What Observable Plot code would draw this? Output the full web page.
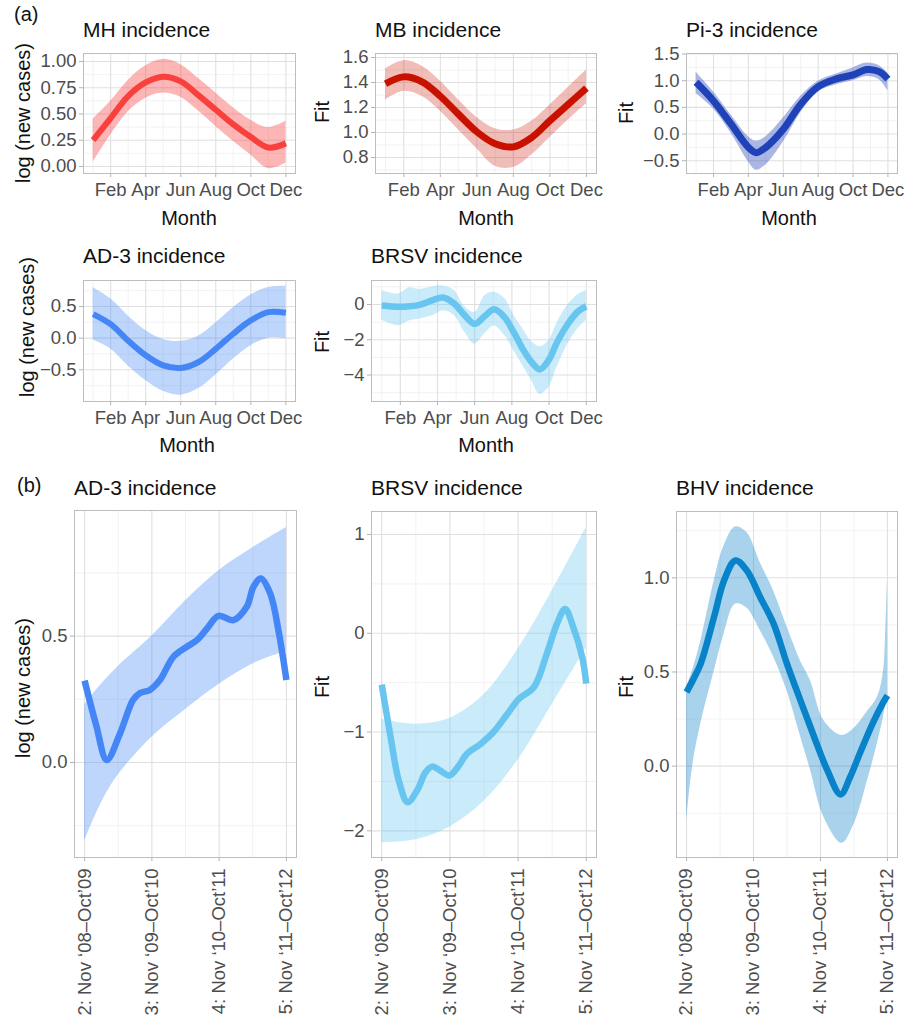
<!DOCTYPE html>
<html><head><meta charset="utf-8">
<script src="https://cdn.jsdelivr.net/npm/d3@7"></script>
<script src="https://cdn.jsdelivr.net/npm/@observablehq/plot@0.6"></script>
<style>
body{margin:0;background:#fff;}
#fig{position:relative;width:919px;height:1023px;overflow:hidden;background:#fff;font-family:"Liberation Sans",Arial,Helvetica,sans-serif;}
</style></head><body><div id="fig"></div>
<script>
// ---------- tick labels ----------
const monthTicks = [2, 4, 6, 8, 10, 12];
const monthLabels = ["Feb", "Apr", "Jun", "Aug", "Oct", "Dec"];
const seasonTicks = [2, 3, 4, 5];
const seasonLabels = ["2: Nov \u201808\u2013Oct\u201909", "3: Nov \u201809\u2013Oct\u201910", "4: Nov \u201810\u2013Oct\u201911", "5: Nov \u201811\u2013Oct\u201912"];

// ---------- (a) seasonal fits ----------
const monthX = [1, 2, 3, 4, 5, 6, 7, 8, 9, 10, 11, 12];
const mhFit = [0.25, 0.46, 0.67, 0.80, 0.855, 0.81, 0.68, 0.54, 0.40, 0.28, 0.18, 0.22];
const mhLo  = [0.04, 0.30, 0.52, 0.65, 0.70, 0.66, 0.53, 0.38, 0.24, 0.11, -0.02, 0.03];
const mhHi  = [0.45, 0.62, 0.82, 0.96, 1.02, 0.97, 0.84, 0.70, 0.56, 0.44, 0.37, 0.43];

const mbFit = [1.39, 1.445, 1.405, 1.29, 1.145, 1.005, 0.91, 0.885, 0.96, 1.095, 1.225, 1.355];
const mbLo  = [1.26, 1.33, 1.29, 1.17, 1.02, 0.87, 0.73, 0.72, 0.82, 0.96, 1.10, 1.23];
const mbHi  = [1.51, 1.575, 1.53, 1.41, 1.26, 1.12, 1.03, 1.02, 1.09, 1.22, 1.36, 1.50];

const pi3X   = [1, 2, 3, 4, 4.45, 5, 6, 7, 8, 9, 10, 10.8, 11.5, 12];
const pi3Fit = [0.97, 0.62, 0.19, -0.25, -0.35, -0.25, 0.09, 0.56, 0.89, 1.03, 1.11, 1.21, 1.17, 1.03];
const pi3Lo  = [0.76, 0.47, 0.02, -0.52, -0.68, -0.58, -0.15, 0.40, 0.79, 0.92, 1.00, 1.08, 1.02, 0.81];
const pi3Hi  = [1.16, 0.79, 0.36, -0.05, -0.13, -0.05, 0.30, 0.71, 0.99, 1.12, 1.24, 1.33, 1.28, 1.14];

const ad3aFit = [0.38, 0.22, -0.04, -0.27, -0.43, -0.47, -0.38, -0.17, 0.07, 0.28, 0.41, 0.40];
const ad3aLo  = [-0.03, -0.17, -0.44, -0.67, -0.84, -0.90, -0.80, -0.58, -0.33, -0.12, 0.00, -0.01];
const ad3aHi  = [0.80, 0.62, 0.35, 0.12, -0.02, -0.05, 0.03, 0.24, 0.48, 0.68, 0.80, 0.82];

const brsvaX   = [1, 1.9, 2.5, 3.05, 3.75, 4.3, 4.9, 5.45, 6.0, 6.55, 7.05, 7.6, 8.15, 8.6, 9.05, 9.5, 9.95, 10.45, 11.0, 11.55, 12];
const brsvaFit = [-0.06, -0.13, -0.10, -0.02, 0.25, 0.40, 0.05, -0.60, -1.10, -0.65, -0.27, -0.72, -1.67, -2.55, -3.25, -3.68, -3.20, -2.10, -1.12, -0.40, -0.10];
const brsvaLo  = [-0.90, -1.20, -0.92, -0.82, -0.62, -0.35, -0.62, -1.55, -2.25, -1.65, -1.22, -1.75, -2.70, -3.50, -4.30, -5.10, -4.75, -3.50, -2.25, -1.38, -0.90];
const brsvaHi  = [0.80, 0.60, 0.95, 0.85, 1.00, 1.05, 0.80, -0.10, -0.45, 0.50, 0.70, 0.35, -0.70, -1.40, -2.10, -2.40, -2.10, -1.00, -0.05, 0.55, 0.80];

// ---------- (b) season trends ----------
const ad3bX   = [2.0, 2.17, 2.33, 2.52, 2.72, 2.82, 2.97, 3.12, 3.32, 3.52, 3.67, 3.82, 3.99, 4.21, 4.41, 4.51, 4.62, 4.76, 4.89, 5.0];
const ad3bFit = [0.324, 0.15, 0.01, 0.11, 0.247, 0.274, 0.287, 0.326, 0.418, 0.458, 0.484, 0.53, 0.58, 0.563, 0.616, 0.695, 0.728, 0.668, 0.51, 0.326];
const ad3bBandX = [2.0, 2.25, 2.5, 3.0, 3.5, 4.0, 4.5, 5.0];
const ad3bLo  = [-0.31, -0.16, -0.05, 0.10, 0.21, 0.31, 0.39, 0.44];
const ad3bHi  = [0.23, 0.31, 0.38, 0.50, 0.64, 0.76, 0.85, 0.93];

const brsvbX   = [2.0, 2.13, 2.25, 2.38, 2.52, 2.64, 2.74, 2.86, 2.99, 3.11, 3.25, 3.45, 3.64, 3.84, 4.01, 4.23, 4.42, 4.57, 4.69, 4.81, 4.94, 5.0];
const brsvbFit = [-0.52, -1.05, -1.49, -1.71, -1.59, -1.41, -1.35, -1.39, -1.44, -1.36, -1.22, -1.12, -1.00, -0.82, -0.665, -0.547, -0.21, 0.095, 0.247, 0.06, -0.24, -0.51];
const brsvbBandX = [2.0, 2.5, 3.0, 3.5, 4.0, 4.5, 5.0];
const brsvbLo  = [-2.12, -2.09, -1.96, -1.70, -1.28, -0.72, -0.15];
const brsvbHi  = [-0.87, -0.92, -0.86, -0.62, -0.16, 0.43, 1.07];

const bhvX   = [2.0, 2.1, 2.21, 2.41, 2.56, 2.73, 2.9, 3.1, 3.3, 3.5, 3.7, 3.9, 4.1, 4.3, 4.44, 4.59, 4.79, 4.94, 5.0];
const bhvFit = [0.393, 0.46, 0.543, 0.791, 0.986, 1.092, 1.039, 0.897, 0.756, 0.543, 0.349, 0.16, -0.02, -0.15, -0.06, 0.07, 0.235, 0.34, 0.375];
const bhvBandX = [2.0, 2.1, 2.21, 2.41, 2.56, 2.73, 2.9, 3.1, 3.3, 3.5, 3.7, 3.85, 4.05, 4.32, 4.5, 4.7, 4.85, 4.94, 4.97, 5.0];
const bhvLo  = [-0.29, 0.02, 0.22, 0.50, 0.70, 0.86, 0.84, 0.72, 0.58, 0.40, 0.16, -0.02, -0.27, -0.41, -0.31, -0.08, 0.12, 0.26, 0.32, 0.36];
const bhvHi  = [0.42, 0.52, 0.66, 0.98, 1.17, 1.27, 1.24, 1.08, 0.93, 0.74, 0.56, 0.455, 0.243, 0.163, 0.20, 0.29, 0.366, 0.50, 0.68, 0.99];

// ---------- drawing ----------
const FONT = '"Liberation Sans", Arial, Helvetica, sans-serif';
const fig = document.getElementById("fig");

function panel(c) {
  const [L, T, R, B] = c.frame;
  const mL = 64, mT = 6, mR = 14, mB = c.rotate ? 175 : 34;
  const rows = c.x.map((d, i) => ({x: d, y: c.fit[i]}));
  const bx = c.bandX || c.x;
  const band = bx.map((d, i) => ({x: d, lo: c.lo[i], hi: c.hi[i]}));
  const chart = Plot.plot({
    width: R - L + mL + mR,
    height: B - T + mT + mB,
    marginLeft: mL, marginRight: mR, marginTop: mT, marginBottom: mB,
    style: {fontSize: "18.5px", fontFamily: FONT, color: "#4d4d4d", background: "transparent", overflow: "visible"},
    x: {domain: c.xDomain, ticks: c.xTicks, tickFormat: d => c.xLabels[c.xTicks.indexOf(d)],
        tickSize: 4, tickPadding: c.rotate ? 7 : 5, tickRotate: c.rotate ? -90 : 0, label: null},
    y: {domain: c.yDomain, ticks: c.yTicks, tickFormat: c.yFormat, tickSize: 4, tickPadding: 3, label: null},
    marks: [
      Plot.frame({fill: "white"}),
      Plot.ruleX(c.xMinor, {stroke: "#efefef", strokeWidth: 0.8}),
      Plot.ruleY(c.yMinor, {stroke: "#efefef", strokeWidth: 0.8}),
      Plot.ruleX(c.xTicks, {stroke: "#e0e0e0", strokeWidth: 1.1}),
      Plot.ruleY(c.yTicks, {stroke: "#e0e0e0", strokeWidth: 1.1}),
      Plot.area(band, {x1: "x", y1: "lo", y2: "hi", fill: c.color, fillOpacity: c.alpha, curve: "catmull-rom"}),
      Plot.line(rows, {x: "x", y: "y", stroke: c.color, strokeWidth: c.lw, curve: "catmull-rom", strokeLinecap: "butt"}),
      Plot.frame({stroke: "#bdbdbd", strokeWidth: 1})
    ]
  });
  chart.querySelectorAll('[aria-label="x-axis tick"], [aria-label="y-axis tick"]').forEach(g => g.setAttribute("stroke", "#b3b3b3"));
  chart.querySelectorAll('[aria-label="x-axis"] line, [aria-label="y-axis"] line').forEach(l => l.setAttribute("stroke", "#b3b3b3"));
  chart.style.position = "absolute";
  chart.style.left = (L - mL) + "px";
  chart.style.top = (T - mT) + "px";
  fig.appendChild(chart);
}

const f2 = d3.format(".2f"), f1 = d3.format(".1f"), f0 = d3.format(".0f");
const rowA = {xDomain: [0.45, 12.55], xTicks: monthTicks, xLabels: monthLabels, xMinor: [1, 3, 5, 7, 9, 11]};
const rowB = {xDomain: [1.85, 5.15], xTicks: seasonTicks, xLabels: seasonLabels, xMinor: [2.5, 3.5, 4.5], rotate: true};

panel({...rowA, frame: [83, 53, 295, 173], yDomain: [-0.067, 1.076], yTicks: [0, 0.25, 0.5, 0.75, 1], yMinor: [0.125, 0.375, 0.625, 0.875], yFormat: f2,
  x: monthX, fit: mhFit, lo: mhLo, hi: mhHi, color: "#F8403D", alpha: 0.38, lw: 6});
panel({...rowA, frame: [375, 53, 596, 173], yDomain: [0.672, 1.632], yTicks: [0.8, 1.0, 1.2, 1.4, 1.6], yMinor: [0.7, 0.9, 1.1, 1.3, 1.5], yFormat: f1,
  x: monthX, fit: mbFit, lo: mbLo, hi: mbHi, color: "#C91100", alpha: 0.28, lw: 7});
panel({...rowA, frame: [686, 53, 897, 173], yDomain: [-0.74, 1.51], yTicks: [-0.5, 0, 0.5, 1.0, 1.5], yMinor: [-0.25, 0.25, 0.75, 1.25], yFormat: f1,
  x: pi3X, fit: pi3Fit, lo: pi3Lo, hi: pi3Hi, color: "#2042B8", alpha: 0.38, lw: 7});
panel({...rowA, frame: [83, 280, 295, 401], yDomain: [-1.0, 0.91], yTicks: [-0.5, 0, 0.5], yMinor: [-0.75, -0.25, 0.25, 0.75], yFormat: f1,
  x: monthX, fit: ad3aFit, lo: ad3aLo, hi: ad3aHi, color: "#4586F7", alpha: 0.35, lw: 6});
panel({...rowA, frame: [371, 280, 596, 401], yDomain: [-5.5, 1.36], yTicks: [-4, -2, 0], yMinor: [-5, -3, -1, 1], yFormat: f0,
  x: brsvaX, fit: brsvaFit, lo: brsvaLo, hi: brsvaHi, color: "#67C5F0", alpha: 0.35, lw: 6.5});

panel({...rowB, frame: [74, 510, 296, 857], yDomain: [-0.376, 0.997], yTicks: [0, 0.5], yMinor: [-0.25, 0.25, 0.75], yFormat: f1,
  x: ad3bX, fit: ad3bFit, bandX: ad3bBandX, lo: ad3bLo, hi: ad3bHi, color: "#4586F7", alpha: 0.35, lw: 6.5});
panel({...rowB, frame: [371, 511, 596, 857], yDomain: [-2.27, 1.233], yTicks: [-2, -1, 0, 1], yMinor: [-1.5, -0.5, 0.5], yFormat: f0,
  x: brsvbX, fit: brsvbFit, bandX: brsvbBandX, lo: brsvbLo, hi: brsvbHi, color: "#67C5F0", alpha: 0.35, lw: 6.5});
panel({...rowB, frame: [676, 511, 897, 857], yDomain: [-0.485, 1.352], yTicks: [0, 0.5, 1.0], yMinor: [-0.25, 0.25, 0.75, 1.25], yFormat: f1,
  x: bhvX, fit: bhvFit, bandX: bhvBandX, lo: bhvLo, hi: bhvHi, color: "#0882C8", alpha: 0.35, lw: 6.5});

// ---------- text overlay ----------
const texts = [
  {t: "(a)", x: 14, y: 21, s: 20},
  {t: "(b)", x: 17, y: 492, s: 20},
  {t: "MH incidence", x: 83, y: 37, s: 21},
  {t: "MB incidence", x: 375, y: 37, s: 21},
  {t: "Pi-3 incidence", x: 686, y: 37, s: 21},
  {t: "AD-3 incidence", x: 83, y: 263, s: 21},
  {t: "BRSV incidence", x: 371, y: 263, s: 21},
  {t: "AD-3 incidence", x: 74, y: 495, s: 21},
  {t: "BRSV incidence", x: 371, y: 495, s: 21},
  {t: "BHV incidence", x: 676, y: 495, s: 21},
  {t: "Month", x: 189, y: 225, s: 20, a: "middle"},
  {t: "Month", x: 486, y: 225, s: 20, a: "middle"},
  {t: "Month", x: 789, y: 225, s: 20, a: "middle"},
  {t: "Month", x: 187, y: 452, s: 20, a: "middle"},
  {t: "Month", x: 486, y: 452, s: 20, a: "middle"},
  {t: "log (new cases)", x: 23, y: 113, s: 20, a: "middle", r: true},
  {t: "Fit", x: 322, y: 112, s: 20, a: "middle", r: true},
  {t: "Fit", x: 626, y: 113, s: 20, a: "middle", r: true},
  {t: "log (new cases)", x: 27, y: 327, s: 20, a: "middle", r: true},
  {t: "Fit", x: 322, y: 342, s: 20, a: "middle", r: true},
  {t: "log (new cases)", x: 23, y: 688, s: 20, a: "middle", r: true},
  {t: "Fit", x: 322, y: 687, s: 20, a: "middle", r: true},
  {t: "Fit", x: 626, y: 687, s: 20, a: "middle", r: true}
];
const ov = d3.select(fig).append("svg").attr("width", 919).attr("height", 1023)
  .style("position", "absolute").style("left", "0px").style("top", "0px").style("pointer-events", "none");
texts.forEach(d => {
  const t = ov.append("text").text(d.t).attr("font-family", FONT).attr("font-size", d.s).attr("fill", "#111")
    .attr("text-anchor", d.a || "start");
  if (d.r) t.attr("transform", `translate(${d.x},${d.y}) rotate(-90)`).attr("dy", "0.36em");
  else t.attr("x", d.x).attr("y", d.y);
});
</script></body></html>
